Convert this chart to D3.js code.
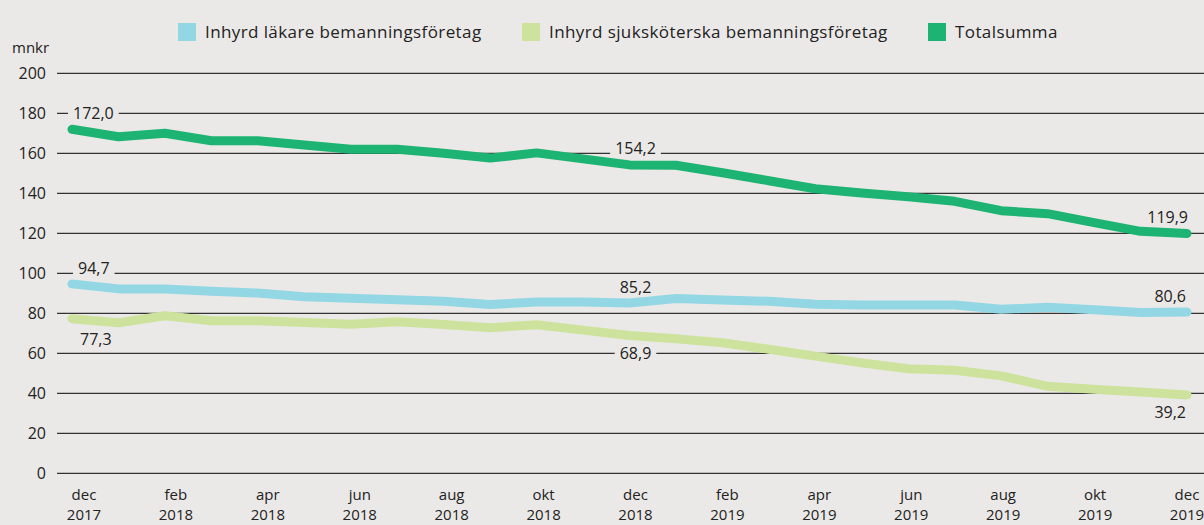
<!DOCTYPE html>
<html>
<head>
<meta charset="utf-8">
<script src="https://cdn.jsdelivr.net/npm/d3@7"></script>
<style>
  body { margin: 0; background: #ebe9e7; }
  svg { display: block; font-family: "Open Sans", "Noto Sans", sans-serif; }
</style>
</head>
<body>
<svg id="chart"></svg>
<script>
// Månader (dec 2017 - dec 2019)
const months = [
    ["dec", "2017"], ["jan", "2018"], ["feb", "2018"], ["mar", "2018"], ["apr", "2018"],
    ["maj", "2018"], ["jun", "2018"], ["jul", "2018"], ["aug", "2018"], ["sep", "2018"],
    ["okt", "2018"], ["nov", "2018"], ["dec", "2018"], ["jan", "2019"], ["feb", "2019"],
    ["mar", "2019"], ["apr", "2019"], ["maj", "2019"], ["jun", "2019"], ["jul", "2019"],
    ["aug", "2019"], ["sep", "2019"], ["okt", "2019"], ["nov", "2019"], ["dec", "2019"]
];

const lakare = [94.7, 92.2, 92.2, 91.0, 90.1, 88.3, 87.5, 86.8, 86.0, 84.4, 85.6, 85.6, 85.2,
    87.4, 86.7, 86.0, 84.5, 84.2, 84.2, 84.2, 82.0, 83.0, 81.8, 80.4, 80.6];

const sjukskoterska = [77.3, 75.3, 78.8, 76.3, 76.3, 75.4, 74.5, 75.8, 74.4, 72.8, 74.3, 71.6, 68.9,
    67.3, 65.3, 62.0, 58.6, 55.2, 52.3, 51.5, 48.7, 43.5, 42.0, 40.7, 39.2];

const totalsumma = [172.0, 168.3, 170.0, 166.3, 166.3, 164.2, 162.0, 162.0, 160.0, 157.6, 160.2, 157.2, 154.2,
    154.0, 150.3, 146.3, 142.3, 140.1, 138.3, 136.0, 131.3, 129.8, 125.3, 121.0, 119.9];

const yTicks = [0, 20, 40, 60, 80, 100, 120, 140, 160, 180, 200];

const series = [
    { name: "Inhyrd läkare bemanningsföretag", values: lakare, color: "#93d7e4" },
    { name: "Inhyrd sjuksköterska bemanningsföretag", values: sjukskoterska, color: "#cde39d" },
    { name: "Totalsumma", values: totalsumma, color: "#1cb373" }
];

const width = 1204, height = 525;
const bg = "#ebe9e7";
const fmt = v => v.toFixed(1).replace(".", ",");

const svg = d3.select("#chart").attr("width", width).attr("height", height);

svg.append("rect").attr("width", width).attr("height", height).attr("fill", bg);

const x = d3.scalePoint().domain(d3.range(months.length)).range([72, 1187]);
const xLabel = d3.scalePoint().domain(d3.range(months.length)).range([84, 1187]);
const y = d3.scaleLinear().domain([0, 200]).range([473.3, 73.3]);

// Gridlines + y labels
const yAxis = svg.append("g");
yAxis.selectAll("line").data(yTicks).join("line")
    .attr("x1", 57).attr("x2", width)
    .attr("y1", d => y(d)).attr("y2", d => y(d))
    .attr("stroke", "#333").attr("stroke-width", 1.2);
yAxis.selectAll("text").data(yTicks).join("text")
    .attr("x", 46).attr("y", d => y(d)).attr("dy", "0.35em")
    .attr("text-anchor", "end").attr("font-size", 16).attr("fill", "#222")
    .text(d => d);

svg.append("text").attr("x", 12).attr("y", 53)
    .attr("font-size", 15).attr("fill", "#222").text("mnkr");

// X labels (varannan månad)
const xt = svg.append("g").selectAll("text")
    .data(d3.range(0, months.length, 2)).join("text")
    .attr("x", i => xLabel(i)).attr("text-anchor", "middle")
    .attr("font-size", 15).attr("fill", "#222");
xt.append("tspan").attr("x", i => xLabel(i)).attr("y", 499.5).text(i => months[i][0]);
xt.append("tspan").attr("x", i => xLabel(i)).attr("y", 520).text(i => months[i][1]);

// Lines
const line = d3.line().x((d, i) => x(i)).y(d => y(d));
svg.append("g").selectAll("path").data(series).join("path")
    .attr("d", d => line(d.values))
    .attr("fill", "none").attr("stroke", d => d.color)
    .attr("stroke-width", 9).attr("stroke-linecap", "round").attr("stroke-linejoin", "round");

// Value labels: series index, point index, offsets
const labels = [
    { s: 2, i: 0, dx: 1, dy: -16, anchor: "start" },
    { s: 2, i: 12, dx: 6, dy: -17, anchor: "middle" },
    { s: 2, i: 24, dx: 1, dy: -16, anchor: "end" },
    { s: 0, i: 0, dx: 6, dy: -16, anchor: "start" },
    { s: 0, i: 12, dx: 6, dy: -16, anchor: "middle" },
    { s: 0, i: 24, dx: -1, dy: -16, anchor: "end" },
    { s: 1, i: 0, dx: 8, dy: 21, anchor: "start" },
    { s: 1, i: 12, dx: 6, dy: 18, anchor: "middle" },
    { s: 1, i: 24, dx: -1, dy: 17, anchor: "end" }
];

const lg = svg.append("g").selectAll("g").data(labels).join("g")
    .attr("transform", d => `translate(${x(d.i) + d.dx},${y(series[d.s].values[d.i]) + d.dy})`);
lg.append("text")
    .attr("text-anchor", d => d.anchor).attr("dy", "0.35em")
    .attr("font-size", 16).attr("fill", "#222")
    .text(d => fmt(series[d.s].values[d.i]));
lg.each(function () {
    const g = d3.select(this);
    const b = g.select("text").node().getBBox();
    g.insert("rect", "text")
        .attr("x", b.x - 5).attr("y", b.y + 3)
        .attr("width", b.width + 10).attr("height", b.height - 6)
        .attr("fill", bg);
});

// Legend
const legendX = [178, 522, 928];
const leg = svg.append("g").selectAll("g").data(series).join("g")
    .attr("transform", (d, i) => `translate(${legendX[i]},23)`);
leg.append("rect").attr("width", 18).attr("height", 18).attr("fill", d => d.color);
leg.append("text").attr("x", 27).attr("y", 9).attr("dy", "0.35em")
    .attr("font-size", 17).attr("letter-spacing", 0.4).attr("fill", "#222").text(d => d.name);
</script>
</body>
</html>
